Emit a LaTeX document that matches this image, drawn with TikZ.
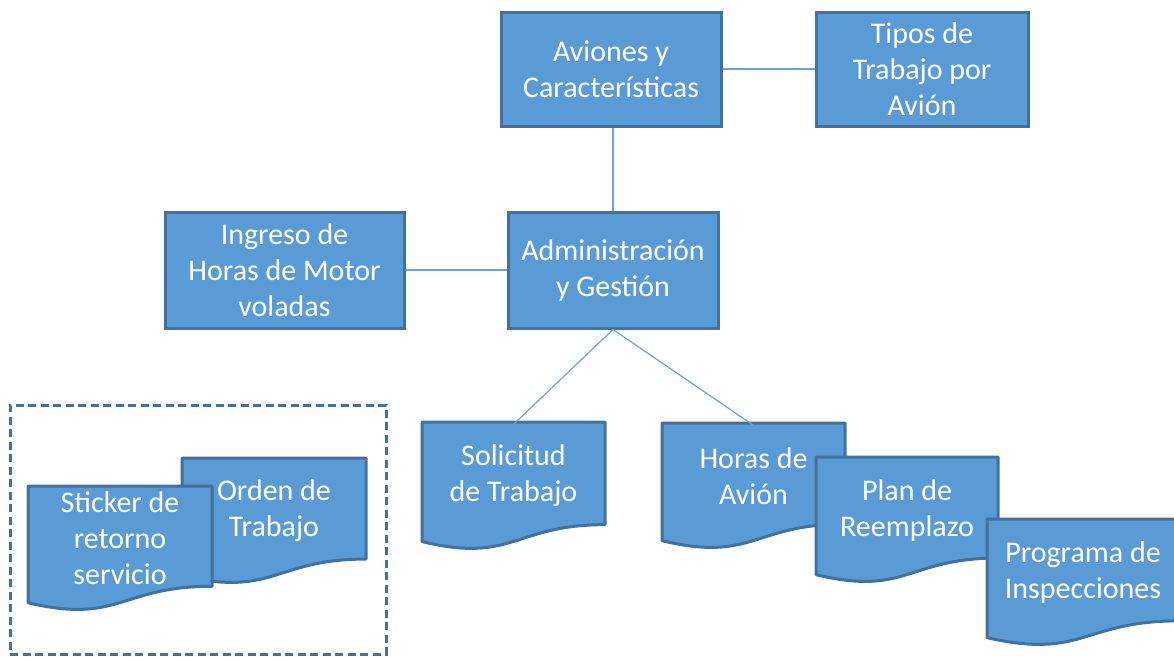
\documentclass[tikz,border=0pt]{standalone}
\usepackage{fontspec}
\setmainfont{Carlito}
\definecolor{boxfill}{HTML}{5B9BD5}
\definecolor{boxline}{HTML}{41719C}
\definecolor{connc}{HTML}{6CA2D6}
\tikzset{
  boxnode/.style={draw=boxline, fill=boxfill, line width=3pt, text=white, align=center,
    inner sep=0pt, font=\fontsize{30}{36}\selectfont},
  docpath/.style={draw=boxline, fill=boxfill, line width=3pt, line join=round},
  doctext/.style={text=white, align=center, inner sep=0pt, font=\fontsize{30}{36}\selectfont},
  connline/.style={draw=connc, line width=1.2pt},
  groupbox/.style={draw=boxline, line width=3pt, dash pattern=on 8pt off 4.5pt}
}
% name, x, y, w, h, text
\newcommand\docnode[6]{%
  \path[docpath] (#2,#3) -- ({#2+#4},#3) -- ({#2+#4},{#3+0.802*#5})
    .. controls ({#2+#4/2},{#3+0.802*#5}) and ({#2+#4/2},{#3+1.1075*#5}) .. (#2,{#3+0.934*#5}) -- cycle;
  \node[doctext, minimum width=#4pt, minimum height={0.802*#5pt}] (#1) at ({#2+#4/2},{#3+0.401*#5+2.5}) {#6};
}
\begin{document}
\begin{tikzpicture}[x=1pt,y=-1pt]
\useasboundingbox (0,0) rectangle (1174,656);

\node[boxnode, minimum width=220pt, minimum height=114pt] (avi) at (611,69) {Aviones y\\Características};
\node[boxnode, minimum width=212pt, minimum height=114pt] (tip) at (922,69) {Tipos de\\Trabajo por\\Avión};
\node[boxnode, minimum width=239pt, minimum height=116pt] (ing) at (284.5,270) {Ingreso de\\Horas de Motor\\voladas};
\node[boxnode, minimum width=210pt, minimum height=116pt] (adm) at (613,270) {Administración\\y Gestión};

\node[groupbox, minimum width=376pt, minimum height=249pt] (grp) at (198,529.5) {};

\docnode{sol}{422}{422}{183}{128}{Solicitud\\de Trabajo}
\docnode{hor}{662}{423}{183}{126}{Horas de\\Avión}
\docnode{pla}{816}{457}{182}{126}{Plan de\\Reemplazo}
\docnode{pro}{987}{519}{192}{127}{Programa de\\Inspecciones}
\docnode{ord}{182}{458}{184}{126}{Orden de\\Trabajo}
\docnode{sti}{28}{486}{184}{125}{Sticker de\\retorno\\servicio}

\draw[connline] (avi.east) -- (tip.west);
\draw[connline] (adm.north) -- (adm.north |- avi.south);
\draw[connline] (ing.east) -- (adm.west);
\draw[connline] (adm.south) -- (sol.north);
\draw[connline] (adm.south) -- (hor.north);
\end{tikzpicture}
\end{document}
